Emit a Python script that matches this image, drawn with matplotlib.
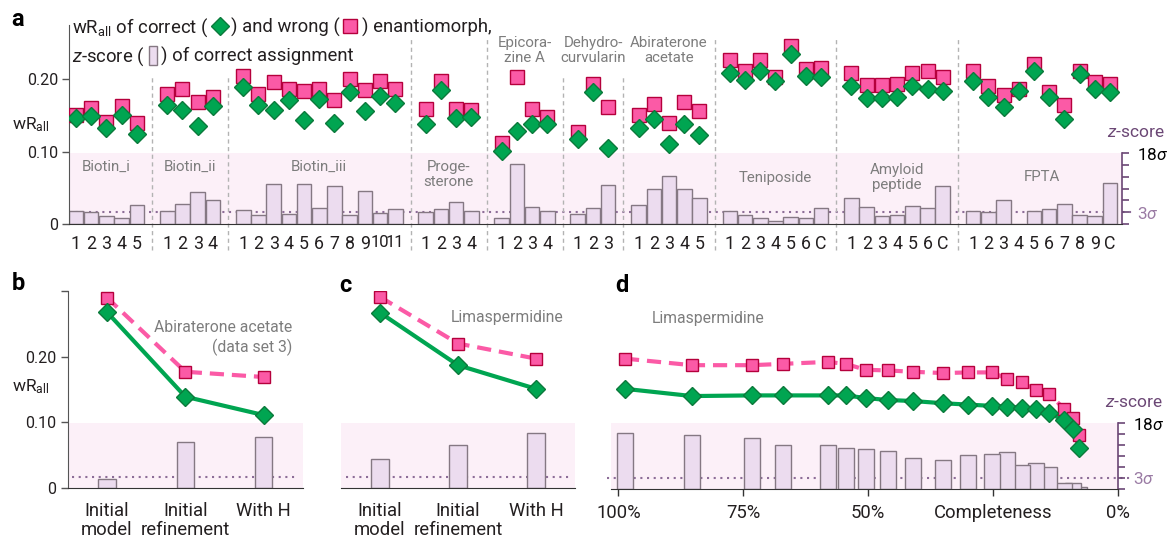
import numpy as np
import matplotlib.pyplot as plt
from matplotlib.lines import Line2D
from matplotlib.patches import Rectangle
from matplotlib.offsetbox import TextArea, DrawingArea, HPacker, VPacker, AnchoredOffsetbox

plt.rcParams['font.family'] = ['Roboto', 'DejaVu Sans']
plt.rcParams['mathtext.fontset'] = 'custom'
plt.rcParams['mathtext.rm'] = 'Roboto'
plt.rcParams['mathtext.it'] = 'Roboto:italic'
plt.rcParams['mathtext.bf'] = 'Roboto:bold'

# ---- data, panel a ----
groups = ['Biotin_i', 'Biotin_ii', 'Biotin_iii', 'Proge-\nsterone', 'Epicora-\nzine A',
          'Dehydro-\ncurvularin', 'Abiraterone\nacetate', 'Teniposide', 'Amyloid\npeptide', 'FPTA']
tick_labels = [
    ['1', '2', '3', '4', '5'],
    ['1', '2', '3', '4'],
    ['1', '2', '3', '4', '5', '6', '7', '8', '9', '10', '11'],
    ['1', '2', '3', '4'],
    ['1', '2', '3', '4'],
    ['1', '2', '3'],
    ['1', '2', '3', '4', '5'],
    ['1', '2', '3', '4', '5', '6', 'C'],
    ['1', '2', '3', '4', '5', '6', 'C'],
    ['1', '2', '3', '4', '5', '6', '7', '8', '9', 'C'],
]
wr_wrong = [
    [0.150, 0.160, 0.141, 0.1625, 0.139],
    [0.179, 0.186, 0.169, 0.175],
    [0.205, 0.179, 0.196, 0.186, 0.184, 0.187, 0.171, 0.201, 0.185, 0.197, 0.187],
    [0.159, 0.197, 0.159, 0.157],
    [0.112, 0.203, 0.159, 0.148],
    [0.127, 0.193, 0.161],
    [0.151, 0.166, 0.140, 0.168, 0.156],
    [0.227, 0.211, 0.226, 0.203, 0.246, 0.214, 0.215],
    [0.209, 0.192, 0.192, 0.193, 0.208, 0.212, 0.203],
    [0.211, 0.191, 0.178, 0.186, 0.221, 0.182, 0.165, 0.211, 0.196, 0.193],
]
wr_correct = [
    [0.147, 0.149, 0.132, 0.150, 0.125],
    [0.164, 0.158, 0.136, 0.1625],
    [0.189, 0.165, 0.157, 0.172, 0.144, 0.173, 0.140, 0.182, 0.156, 0.177, 0.167],
    [0.138, 0.185, 0.146, 0.148],
    [0.101, 0.128, 0.138, 0.138],
    [0.118, 0.182, 0.105],
    [0.133, 0.145, 0.111, 0.138, 0.123],
    [0.208, 0.199, 0.212, 0.198, 0.235, 0.204, 0.203],
    [0.191, 0.174, 0.174, 0.176, 0.191, 0.186, 0.184],
    [0.198, 0.176, 0.161, 0.184, 0.211, 0.175, 0.145, 0.207, 0.187, 0.182],
]
zscore = [
    [3.4, 3.1, 2.0, 1.45, 4.8],
    [3.2, 5.0, 8.1, 6.0],
    [3.5, 2.3, 10.1, 2.5, 10.2, 4.1, 9.8, 2.3, 8.3, 2.7, 3.7],
    [3.05, 3.7, 5.5, 3.4],
    [1.45, 15.4, 4.4, 3.4],
    [2.5, 4.0, 9.9],
    [4.8, 8.8, 12.3, 8.9, 6.5],
    [3.2, 2.3, 1.45, 0.85, 1.7, 1.45, 4.0],
    [6.5, 4.25, 2.0, 2.2, 4.7, 4.0, 9.8],
    [3.4, 3.1, 6.1, 0.1, 3.4, 3.7, 5.1, 2.2, 2.1, 10.4],
]

# ---- data, panels b-d ----
steps = ['Initial\nmodel', 'Initial\nrefinement', 'With H']
b_correct = [0.268, 0.139, 0.111]
b_wrong = [0.290, 0.177, 0.169]
b_z = [2.4, 12.6, 14.1]
c_correct = [0.267, 0.187, 0.151]
c_wrong = [0.291, 0.220, 0.197]
c_z = [7.9, 11.9, 15.1]
d_completeness = [98.7, 85.3, 73.3, 67.1, 58.1, 54.5, 50.5, 46.1, 41.1, 34.9,
                  29.9, 25.1, 22.1, 19.2, 16.4, 13.7, 10.8, 8.9, 7.7]
d_correct = [0.152, 0.141, 0.142, 0.142, 0.142, 0.142, 0.138, 0.135, 0.1335, 0.130,
             0.128, 0.126, 0.125, 0.123, 0.122, 0.115, 0.1045, 0.091, 0.0615]
d_wrong = [0.198, 0.188, 0.188, 0.190, 0.193, 0.190, 0.181, 0.180, 0.178, 0.176,
           0.177, 0.177, 0.167, 0.162, 0.150, 0.144, 0.122, 0.107, 0.081]
d_z = [15.3, 14.8, 13.9, 12.0, 12.0, 11.1, 10.8, 10.3, 8.5, 7.8,
       9.4, 9.6, 10.0, 6.6, 7.1, 6.1, 1.5, 1.5, 0.6]

# colours
GREEN = '#00a551'
GREEN_EDGE = '#0b7a3b'
PINK = '#fb5aa6'
PINK_EDGE = '#b5003c'
BAR = '#ecdcef'
BAR_EDGE = '#857883'
BG = '#fcf0f8'
DOT = '#8d6d98'
PURPLE = '#6b4775'
LIGHT_PURPLE = '#9a7ba4'
GREY_TXT = '#7d7d7d'
INK = '#231f20'

W, H = 1167, 536
fig = plt.figure(figsize=(W / 100, H / 100), dpi=100)


def fx(px):
    return px / W


def fy(py):
    return 1 - py / H


sq = dict(marker='s', ms=9.5, mfc=PINK, mec=PINK_EDGE, mew=1, ls='none')
dm = dict(marker='D', ms=9, mfc=GREEN, mec=GREEN_EDGE, mew=1, ls='none')
dotted = (0, (1, 2.2))

# ================= panel a =================
ax = fig.add_axes([fx(69), fy(224), fx(1122) - fx(69), fy(25) - fy(224)])
az = ax.twinx()
ax.set_zorder(az.get_zorder() + 1)
ax.patch.set_visible(False)

ymax_a = 0.275
ax.set_ylim(0, ymax_a)
az.set_ylim(0, ymax_a * 18 / 0.0977)
ax.set_xlim(-0.46, 68.79)

az.axhspan(0, 18, color=BG, lw=0, zorder=0)
az.axhline(3, xmin=0, xmax=1.01, color=DOT, lw=1.5, ls=dotted, clip_on=False, zorder=1)

positions = []
start = 0
for labels in tick_labels:
    positions.append(np.arange(start, start + len(labels)))
    start += len(labels) + 1

for p, zs, ww, wc in zip(positions, zscore, wr_wrong, wr_correct):
    az.bar(p, zs, width=0.96, color=BAR, edgecolor=BAR_EDGE, lw=1, zorder=2)
    ax.plot(p, ww, zorder=3, **sq)
    ax.plot(p, wc, zorder=4, **dm)

# dashed separators between data sets
sep_top = [0.203, 0.203, 0.255, 0.255, 0.206, 0.206, 0.255, 0.255, 0.255]
for p, top in zip(positions[:-1], sep_top):
    s = p[-1] + 1
    ax.plot([s, s], [-0.036, top], color='#b3b3b3', lw=1, ls=(0, (3, 2.5)),
            clip_on=False, zorder=1)

# data set names
label_inside = [True, True, True, True, False, False, False, True, True, True]
label_y = [14.5, 14.5, 14.5, 12.7, 0.2395, 0.2395, 0.2395, 11.7, 11.8, 12.0]
for p, name, inside, ly in zip(positions, groups, label_inside, label_y):
    tgt = az if inside else ax
    tgt.text(p.mean(), ly, name, ha='center', va='center', color=GREY_TXT,
             fontsize=10.8, linespacing=1.1, zorder=5)

ax.set_xticks(np.concatenate(positions))
ax.set_xticklabels(sum(tick_labels, []))
ax.tick_params(axis='x', length=0, pad=8, labelsize=12.8, labelcolor=INK)
for t in ax.get_xticklabels():
    if len(t.get_text()) > 1:
        t.set_fontsize(12)
ax.set_yticks([0, 0.1, 0.2])
ax.set_yticklabels(['0', '0.10', '0.20'])
ax.tick_params(axis='y', length=5, width=1, color='#555555', pad=3, labelsize=11.5, labelcolor=INK)
ax.spines['top'].set_visible(False)
ax.spines['right'].set_visible(False)
ax.spines['left'].set_color('#555555')
ax.spines['bottom'].set_color('#333333')
ax.text(-0.036, 0.137, 'wR$_{\\mathregular{all}}$', transform=ax.get_yaxis_transform(),
        ha='center', va='center', fontsize=12.5, color=INK)


def z_axis(zax, label_x, label_y):
    for s in ['top', 'left', 'bottom']:
        zax.spines[s].set_visible(False)
    zax.spines['right'].set_bounds(0, 18)
    zax.spines['right'].set_color(PURPLE)
    zax.spines['right'].set_linewidth(1.2)
    zax.set_yticks(range(0, 19, 3))
    zax.set_yticklabels(['', '3$\\sigma$', '', '', '', '', '18$\\sigma$'])
    zax.tick_params(axis='y', length=5, width=1.2, color=PURPLE, pad=6, labelsize=12.3)
    tl = zax.get_yticklabels()
    tl[1].set_color(LIGHT_PURPLE)
    tl[6].set_color('black')
    zax.text(label_x, label_y, '$\\mathit{z}$-score', transform=zax.get_yaxis_transform(),
             ha='left', va='center', color=PURPLE, fontsize=12.5, clip_on=False)


z_axis(az, 0.9858, 23.3)

# legend text with inline symbols
tp = dict(fontsize=13.3, color=INK)


def txt(s):
    return TextArea(s, textprops=tp)


def icon(**kw):
    da = DrawingArea(16, 14, 0, 3)
    da.add_artist(Line2D([8], [4.4], **kw))
    return da


bar_icon = DrawingArea(12, 14, 0, 3)
bar_icon.add_artist(Rectangle((3, -2.5), 6, 13.5, fc=BAR, ec=BAR_EDGE, lw=1))
line1 = HPacker(children=[txt('wR$_{\\mathregular{all}}$ of correct ('),
                          icon(marker='D', ms=9.5, mfc=GREEN, mec=GREEN_EDGE, mew=1, ls='none'),
                          txt(') and wrong ('),
                          icon(marker='s', ms=10, mfc=PINK, mec=PINK_EDGE, mew=1, ls='none'),
                          txt(') enantiomorph,')],
                align='baseline', pad=0, sep=0)
line2 = HPacker(children=[txt('$\\mathit{z}$-score ('), bar_icon,
                          txt(') of correct assignment')],
                align='baseline', pad=0, sep=0)
legend_box = VPacker(children=[line1, line2], align='left', pad=0, sep=5)
fig.add_artist(AnchoredOffsetbox(loc='upper left', child=legend_box, pad=0, borderpad=0,
                                 frameon=False, bbox_to_anchor=(fx(72), fy(16)),
                                 bbox_transform=fig.transFigure))


# ================= panels b-d =================
def lower(rect, ymax=0.30):
    axl = fig.add_axes(rect)
    azl = axl.twinx()
    axl.set_zorder(azl.get_zorder() + 1)
    axl.patch.set_visible(False)
    axl.set_ylim(0, ymax)
    azl.set_ylim(0, ymax * 18 / 0.0995)
    azl.axhspan(0, 18, color=BG, lw=0, zorder=0)
    axl.spines['top'].set_visible(False)
    axl.spines['right'].set_visible(False)
    axl.spines['bottom'].set_color('#333333')
    for s in ['top', 'left', 'bottom']:
        azl.spines[s].set_visible(False)
    return axl, azl


def draw_series(axl, x, correct, wrong):
    axl.plot(x, wrong, color=PINK, lw=3, ls=(0, (3.4, 1.9)), zorder=2)
    axl.plot(x, correct, color=GREEN, lw=3, zorder=3)
    axl.plot(x, wrong, zorder=4, **dict(sq, ms=9))
    axl.plot(x, correct, zorder=5, **dict(dm, ms=8.7))


xs = np.arange(len(steps))
rects = {
    'b': [fx(67.7), fy(488), fx(303) - fx(67.7), fy(291) - fy(488)],
    'c': [fx(341), fy(488), fx(575) - fx(341), fy(291) - fy(488)],
}
for key, corr, wrg, zz, note, note_xy, ha in [
        ('b', b_correct, b_wrong, b_z, 'Abiraterone acetate\n(data set 3)', (0.953, 0.228), 'right'),
        ('c', c_correct, c_wrong, c_z, 'Limaspermidine', (0.709, 0.259), 'center')]:
    axl, azl = lower(rects[key])
    axl.set_xlim(-0.5, 2.5)
    azl.axhline(3, xmin=0.02, xmax=0.975, color=DOT, lw=1.5, ls=dotted, zorder=1)
    azl.bar(xs, zz, width=0.22, color=BAR, edgecolor=BAR_EDGE, lw=1, zorder=2)
    azl.spines['right'].set_visible(False)
    azl.set_yticks([])
    draw_series(axl, xs, corr, wrg)
    axl.set_xticks(xs)
    axl.set_xticklabels(steps, linespacing=1.1)
    axl.tick_params(axis='x', length=0, pad=10, labelsize=13.3, labelcolor=INK)
    axl.text(note_xy[0], note_xy[1], note, transform=axl.get_yaxis_transform(), ha=ha,
             va='center', color=GREY_TXT, fontsize=11.3, linespacing=1.25)
    if key == 'b':
        axl.set_yticks([0, 0.1, 0.2, 0.3])
        axl.set_yticklabels(['0', '0.10', '0.20', ''])
        axl.tick_params(axis='y', length=5, width=1, color='#555555', pad=3,
                        labelsize=11.5, labelcolor=INK)
        axl.spines['left'].set_color('#555555')
        axl.text(-0.156, 0.155, 'wR$_{\\mathregular{all}}$', transform=axl.get_yaxis_transform(),
                 ha='center', va='center', fontsize=12.5, color=INK)
    else:
        axl.spines['left'].set_visible(False)
        axl.set_yticks([])

# panel d
axd, azd = lower([fx(611), fy(488.7), fx(1117.7) - fx(611), fy(291.6) - fy(488.7)])
axd.set_xlim(101.5, 0)
azd.axhline(3, xmin=-0.008, xmax=1.024, color=DOT, lw=1.5, ls=dotted, clip_on=False, zorder=1)
azd.bar(d_completeness[::-1], d_z[::-1], width=3.2, color=BAR, edgecolor=BAR_EDGE, lw=1, zorder=2)
draw_series(axd, d_completeness, d_correct, d_wrong)
axd.spines['left'].set_visible(False)
axd.set_yticks([])
axd.set_xticks([100, 75, 50, 25, 0])
axd.set_xticklabels(['100%', '75%', '50%', 'Completeness', '0%'])
axd.tick_params(axis='x', length=5, width=1, color='#333333', pad=6, labelsize=13.3, labelcolor=INK)
axd.text(0.191, 0.259, 'Limaspermidine', transform=axd.get_yaxis_transform(), ha='center',
         va='center', color=GREY_TXT, fontsize=11.3)
z_axis(azd, 0.975, 23.6)

# panel letters
for letter, px, py in [('a', 18, 20), ('b', 18, 284), ('c', 345, 286), ('d', 622, 285)]:
    fig.text(fx(px), fy(py), letter, fontsize=17, fontweight='bold', ha='center', va='center')

fig.savefig('out.png', dpi=100)
